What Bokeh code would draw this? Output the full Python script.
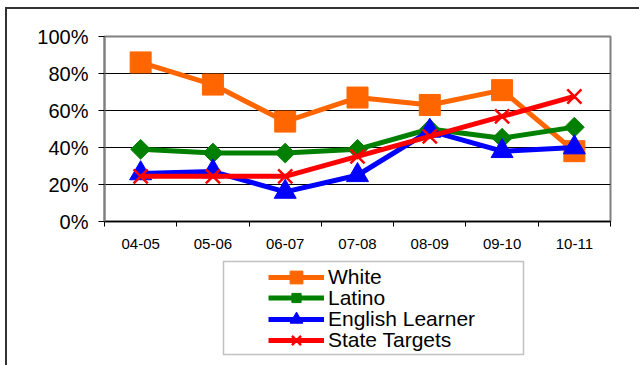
import math
from bokeh.plotting import figure
from bokeh.layouts import column
from bokeh.models import (FixedTicker, PrintfTickFormatter, Legend, LegendItem,
                          BoxAnnotation, Range1d)
from bokeh.embed import file_html
from bokeh.resources import INLINE

categories = ["04-05", "05-06", "06-07", "07-08", "08-09", "09-10", "10-11"]
white = [86, 74, 54, 67, 63, 71, 38]
latino = [39, 37, 37, 39, 50, 45, 51]
english_learner = [26, 27, 16, 25, 49, 38, 40]
state_targets = [24.4, 24.4, 24.4, 35.2, 46.0, 56.8, 67.6]
y_ticks = [0, 20, 40, 60, 80, 100]

FONT = "Liberation Sans"

xs = [i + 0.5 for i in range(len(categories))]
bounds = list(range(len(categories) + 1))

p = figure(width=632, height=250, x_range=Range1d(0, len(categories)),
           y_range=Range1d(0, 100), output_backend="svg", toolbar_location=None,
           min_border_left=97, min_border_top=27, min_border_right=29,
           min_border_bottom=38)
p.background_fill_color = "white"
p.border_fill_color = "white"
p.outline_line_color = "#808080"
p.outline_line_width = 2

# axes
p.yaxis.ticker = FixedTicker(ticks=y_ticks)
p.yaxis.formatter = PrintfTickFormatter(format="%d%%")
p.yaxis.major_label_text_font = FONT
p.yaxis.major_label_text_font_size = "20px"
p.yaxis.major_label_text_color = "black"
p.yaxis.major_tick_out = 6
p.yaxis.major_tick_in = 0
p.yaxis.major_tick_line_color = "black"
p.yaxis.minor_tick_line_color = None
p.yaxis.axis_line_color = "#808080"
p.yaxis.axis_line_width = 2
p.yaxis.major_label_standoff = 10

p.xaxis.ticker = FixedTicker(ticks=xs, minor_ticks=bounds)
p.xaxis.major_label_overrides = {x: c for x, c in zip(xs, categories)}
p.xaxis.major_label_text_font = FONT
p.xaxis.major_label_text_font_size = "15px"
p.xaxis.major_label_text_color = "black"
p.xaxis.major_tick_line_color = None
p.xaxis.major_tick_out = 5
p.xaxis.minor_tick_out = 5
p.xaxis.minor_tick_in = 0
p.xaxis.minor_tick_line_color = "black"
p.xaxis.axis_line_color = "black"
p.xaxis.axis_line_width = 1.5
p.xaxis.major_label_standoff = 12

p.xgrid.grid_line_color = None
p.ygrid.ticker = FixedTicker(ticks=y_ticks)
p.ygrid.grid_line_color = "black"
p.ygrid.grid_line_width = 1

series = [
    ("White", white, "#FF6600", dict(marker="square", size=21, angle=0)),
    ("Latino", latino, "#008000", dict(marker="square", size=14, angle=math.pi / 4)),
    ("English Learner", english_learner, "#0000FF", dict(marker="triangle", size=22, angle=0)),
    ("State Targets", state_targets, "#FF0000", dict(marker="x", size=20, angle=0)),
]


def draw(fig, vals, col, mk):
    lr = fig.line(xs, vals, line_color=col, line_width=5)
    if mk["marker"] == "x":
        sr = fig.scatter(xs, vals, marker="x", size=mk["size"], line_color=col, line_width=2.5)
    else:
        sr = fig.scatter(xs, vals, marker=mk["marker"], size=mk["size"], angle=mk["angle"],
                         fill_color=col, line_color=col)
    return lr, sr


for name, vals, col, mk in series:
    draw(p, vals, col, mk)

# legend panel (separate canvas below the chart; its data lies outside its view)
pl = figure(width=632, height=106, x_range=Range1d(100, 101), y_range=Range1d(0, 100),
            output_backend="svg", toolbar_location=None,
            x_axis_location=None, y_axis_location=None,
            min_border=0, min_border_left=0, min_border_right=0,
            min_border_top=0, min_border_bottom=0)
pl.outline_line_color = None
pl.xgrid.visible = False
pl.ygrid.visible = False
pl.background_fill_color = "white"
pl.border_fill_color = "white"

legend_box = BoxAnnotation(left=119, right=419, top=104, bottom=11,
                           left_units="screen", right_units="screen",
                           top_units="screen", bottom_units="screen",
                           fill_color=None, fill_alpha=0,
                           line_color="#333333", line_width=1.5)
pl.add_layout(legend_box)

# one legend per entry so that entries can sit closer than their marker boxes
entry_bottoms = [72, 55.5, 30, 9]
entry_heights = [32, 23, 32, 32]
for (name, vals, col, mk), yb, gh in zip(series, entry_bottoms, entry_heights):
    lr, sr = draw(pl, vals, col, mk)
    lg = Legend(items=[LegendItem(label=name, renderers=[lr, sr])],
                location=(164, yb), orientation="vertical",
                border_line_color=None, background_fill_alpha=0,
                padding=0, margin=0, spacing=0, glyph_width=56, glyph_height=gh,
                label_height=gh, label_standoff=4,
                label_text_font=FONT, label_text_font_size="21px",
                label_text_color="black")
    pl.add_layout(lg, "center")

layout = column(p, pl, spacing=0,
                styles={"border-top": "2px solid #333333",
                        "border-left": "2px solid #333333",
                        "margin-left": "5px", "margin-top": "7px"})

open("out.html", "w").write(file_html(layout, INLINE))
